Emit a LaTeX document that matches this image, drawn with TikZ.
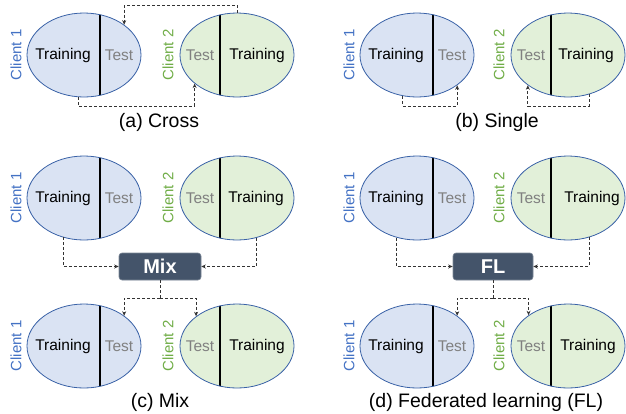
\documentclass[tikz,border=0pt]{standalone}
\usepackage{fontspec}
\setmainfont{Liberation Sans}
\usetikzlibrary{arrows.meta,shapes.geometric}
\definecolor{fillA}{HTML}{DAE3F3}
\definecolor{fillB}{HTML}{E2F0D9}
\definecolor{ellcol}{HTML}{3A62A7}
\definecolor{cola}{HTML}{4472C4}
\definecolor{colb}{HTML}{70AD47}
\definecolor{testcol}{HTML}{808080}
\definecolor{boxcol}{HTML}{44546A}
\tikzset{
  ell/.style={ellipse, draw=ellcol, line width=0.8pt, minimum width=114pt, minimum height=84pt, inner sep=0pt},
  divline/.style={line width=1.2pt, black},
  txt/.style={font=\fontsize{15.5}{18}\selectfont, inner sep=0pt},
  clientlbl/.style={font=\fontsize{15}{17}\selectfont, inner sep=0pt, rotate=90},
  dashline/.style={draw=black!80, line width=0.8pt, dash pattern=on 3pt off 2pt},
  conn/.style={dashline, -{Stealth[length=4.5pt,width=4pt]}},
  boxnode/.style={rounded corners=3pt, fill=boxcol, draw=boxcol!70!white, line width=0.6pt, text=white, font=\fontsize{20}{24}\selectfont\bfseries, minimum width=82pt, minimum height=27pt, inner sep=0pt},
  captxt/.style={font=\fontsize{19.5}{23}\selectfont, inner sep=0pt}
}
% client 1 ellipse: name, x, y
\newcommand{\cellL}[3]{%
  \fill[fillA] (#2,#3) ellipse (57 and 42);
  \begin{scope}\clip (#2,#3) ellipse (57 and 42);
    \draw[divline] (#2+16,#3+50) -- (#2+16,#3-50);
  \end{scope}
  \node[ell] (#1) at (#2,#3) {};
  \node[txt] (#1tr) at (#2-21,#3) {Training};
  \node[txt, text=testcol] (#1te) at (#2+35,#3) {Test};
  \node[clientlbl, text=cola] (#1cl) at (#2-68,#3) {Client 1};
}
% client 2 ellipse: name, x, y, training offset
\newcommand{\cellR}[4]{%
  \fill[fillB] (#2,#3) ellipse (57 and 42);
  \begin{scope}\clip (#2,#3) ellipse (57 and 42);
    \draw[divline] (#2-17,#3+50) -- (#2-17,#3-50);
  \end{scope}
  \node[ell] (#1) at (#2,#3) {};
  \node[txt] (#1tr) at (#2+#4,#3) {Training};
  \node[txt, text=testcol] (#1te) at (#2-37,#3) {Test};
  \node[clientlbl, text=colb] (#1cl) at (#2-69,#3) {Client 2};
}
\begin{document}
\begin{tikzpicture}[x=1pt,y=1pt]
\useasboundingbox (0,0) rectangle (626,-413);
\coordinate (topA) at (0,-5);
\coordinate (rowA) at (0,-106);
% (a) Cross
\cellL{Ea}{84}{-55}
\cellR{Fa}{237}{-55}{20}
\draw[conn] (Fa.north) -- (Fa.north |- topA) -| (Ea.37);
\draw[conn] (Ea.262) -- (Ea.262 |- rowA) -| (Fa.214);
\node[captxt] (capa) at (159,-122) {(a) Cross};
% (b) Single
\cellL{Eb}{417}{-55}
\cellR{Fb}{568}{-55}{18}
\draw[conn] (Eb.251) -- (Eb.251 |- rowA) -| (Eb.323);
\draw[conn] (Fb.298) -- (Fb.298 |- rowA) -| (Fb.217);
\node[captxt] (capb) at (497,-122) {(b) Single};
% (c) Mix
\cellL{Ec}{84}{-198}
\cellR{Fc}{237}{-198}{19}
\node[boxnode] (mix) at (160,-266.5) {Mix};
\draw[conn] (Ec.242) |- (mix.west);
\draw[conn] (Fc.296) |- (mix.east);
\cellL{Gc}{84}{-346}
\cellR{Hc}{237}{-346}{20}
\coordinate (jc) at (160,-298);
\draw[dashline] (mix.south) -- (jc);
\draw[conn] (jc) -| (Gc.37);
\draw[conn] (jc) -| (Hc.144);
\node[captxt] (capc) at (160,-402) {(c) Mix};
% (d) FL
\cellL{Ed}{417}{-198}
\cellR{Fd}{568}{-198}{24}
\node[boxnode, minimum width=80pt] (fl) at (493,-266.5) {FL};
\draw[conn] (Ed.243) |- (fl.west);
\draw[conn] (Fd.298) |- (fl.east);
\cellL{Gd}{417}{-346}
\cellR{Hd}{568}{-346}{20}
\coordinate (jd) at (493,-298);
\draw[dashline] (fl.south) -- (jd);
\draw[conn] (jd) -| (Gd.37);
\draw[conn] (jd) -| (Hd.142);
\node[captxt] (capd) at (486,-402) {(d) Federated learning (FL)};
\end{tikzpicture}
\end{document}
